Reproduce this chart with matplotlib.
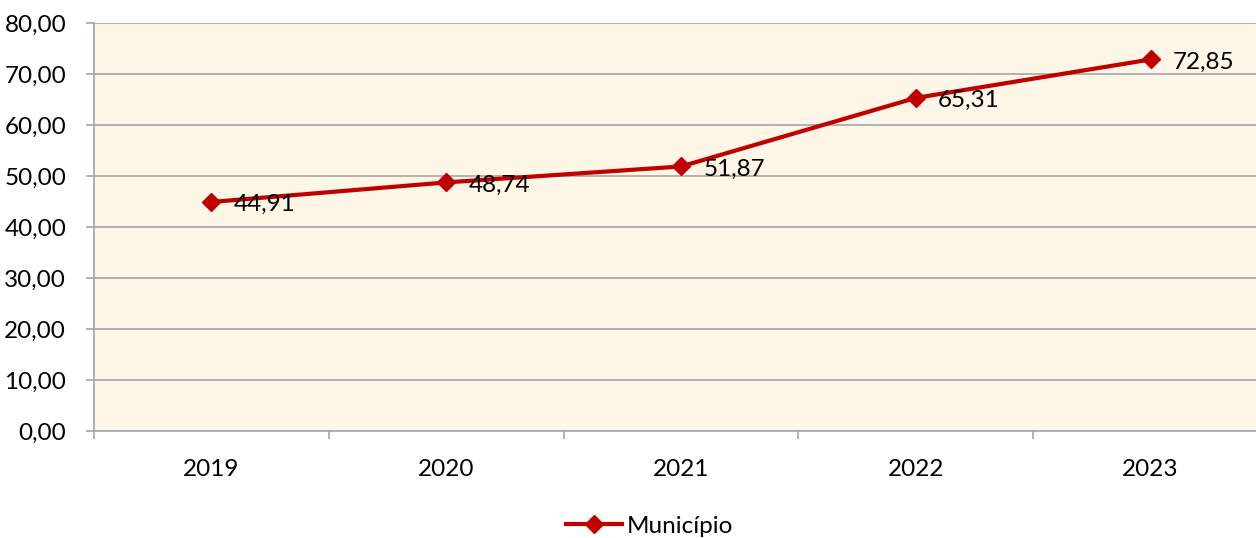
import matplotlib
matplotlib.use("Agg")
import matplotlib.pyplot as plt
from matplotlib.ticker import FuncFormatter

years = ["2019", "2020", "2021", "2022", "2023"]
values = [44.91, 48.74, 51.87, 65.31, 72.85]
y_ticks = [0, 10, 20, 30, 40, 50, 60, 70, 80]

plt.rcParams['font.family'] = ['Lato', 'DejaVu Sans']

fig = plt.figure(figsize=(12.56, 5.38), dpi=100)
# axes: left 94px, right ~1268px (past the edge), top 23px, bottom 431px
ax = fig.add_axes([94 / 1256, 1 - 431 / 538, (1268 - 94) / 1256, (431 - 23) / 538])
ax.set_facecolor('#FEF6E6')

x = list(range(len(years)))
line, = ax.plot(x, values, color='#C00000', lw=3, marker='D', ms=9,
                markeredgecolor='#C00000', markerfacecolor='#C00000',
                label='Município', zorder=3)

for xi, v in zip(x, values):
    ax.annotate(f"{v:.2f}".replace('.', ','), (xi, v), xytext=(16, -2),
                textcoords='offset points', ha='left', va='center',
                fontsize=17.5, color='black')

ax.set_xlim(-0.5, len(years) - 0.5)
ax.set_ylim(0, 80)
ax.set_yticks(y_ticks)
ax.yaxis.set_major_formatter(FuncFormatter(lambda v, p: f"{v:.2f}".replace('.', ',')))
ax.set_xticks(x)
ax.set_xticklabels(years)
ax.set_xticks([i + 0.5 for i in range(-1, len(years))], minor=True)

ax.grid(axis='y', color='#A6A6A6', lw=1.2)
ax.set_axisbelow(True)
for side in ['top', 'right']:
    ax.spines[side].set_visible(False)
for side in ['left', 'bottom']:
    ax.spines[side].set_color('#A6A6A6')
    ax.spines[side].set_linewidth(1.2)

ax.tick_params(axis='y', length=6, width=1.2, color='#A6A6A6', labelsize=17.5, pad=14)
ax.tick_params(axis='x', which='major', length=0, labelsize=17.5, pad=20)
ax.tick_params(axis='x', which='minor', length=6, width=1.2, color='#A6A6A6')

fig.legend(handles=[line], loc='center', bbox_to_anchor=(650 / 1256, 1 - 526 / 538),
           frameon=False, fontsize=17.5, handlelength=2.3, handletextpad=0.2,
           borderaxespad=0)

fig.savefig('out.png', dpi=100)
